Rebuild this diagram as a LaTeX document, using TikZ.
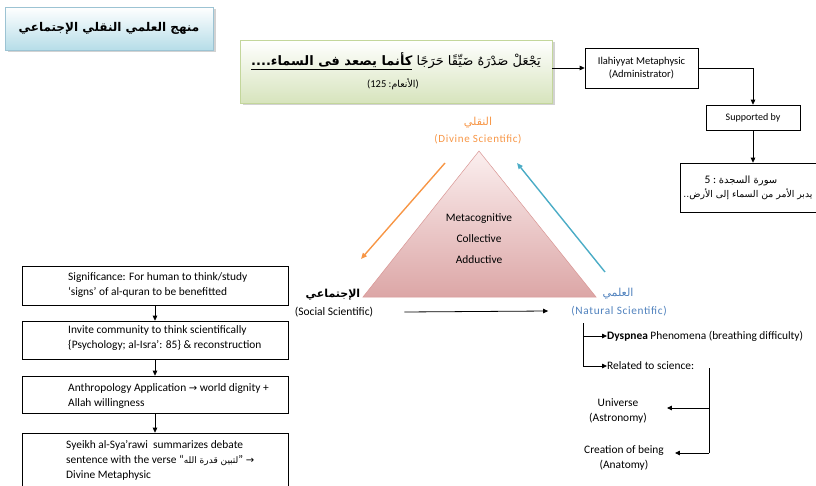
\documentclass[tikz,border=0pt]{standalone}
\usepackage{fontspec}
\setmainfont{Carlito}
\newfontfamily\spaced[LetterSpace=6]{Carlito}
\newfontfamily\arabicfont[Script=Arabic]{DejaVu Sans}
\newfontfamily\symfont{DejaVu Sans}
\TeXXeTstate=1
\usetikzlibrary{arrows.meta,shadows,calc}
\definecolor{titlebot}{HTML}{B6DDE8}
\definecolor{titleline}{HTML}{9CC3D3}
\definecolor{qbot}{HTML}{D7E4BD}
\definecolor{qline}{HTML}{C3D69B}
\definecolor{tritop}{HTML}{FBEFEF}
\definecolor{tribot}{HTML}{DCA6A6}
\definecolor{triline}{HTML}{D99694}
\definecolor{orng}{HTML}{F79646}
\definecolor{arrblue}{HTML}{4BACC6}
\definecolor{lblblue}{HTML}{4F81BD}
\begin{document}
\begin{tikzpicture}[x=1pt,y=-1pt,
  font=\fontsize{11.4}{15}\selectfont,
  arr/.style={-{Triangle[length=5pt,width=4.5pt]}, line width=0.8pt},
  boxed/.style={draw, line width=0.6pt, inner sep=0pt},
  txt/.style={inner sep=0pt, align=left, anchor=west},
  shad/.style={drop shadow={shadow xshift=2.5pt, shadow yshift=-2.5pt, fill=black!35}}]
\useasboundingbox (0,0) rectangle (816,486);

% title
\node[draw=titleline, line width=0.6pt, top color=white, bottom color=titlebot, shad,
      minimum width=208, minimum height=43, inner sep=0pt] (title) at (109,28.5)
  {\arabicfont\bfseries\fontsize{12}{14}\selectfont\beginR منهج العلمي النقلي الإجتماعي\endR};

% quran box
\node[draw=qline, line width=0.6pt, top color=white, bottom color=qbot, shad,
      minimum width=312, minimum height=63, inner sep=0pt, align=center] (quran) at (396,71.5)
  {{\arabicfont\fontsize{13}{16}\selectfont\beginR يَجْعَلْ صَدْرَهُ ضَيِّقًا حَرَجًا \underline{\bfseries\beginR كأنما يصعد فى السماء....\endR}\endR}\\[7pt]
   \hspace*{-6pt}{\fontsize{10.5}{12}\selectfont (125 :{\arabicfont\fontsize{9.5}{12}\selectfont\beginR الأنعام\endR})}};

% top right chain
\node[boxed, minimum width=113, minimum height=40, align=center, font=\fontsize{10.5}{12.5}\selectfont] (ila) at (641.5,68)
  {Ilahiyyat Metaphysic\\(Administrator)};
\node[boxed, minimum width=94, minimum height=25, font=\fontsize{10}{12}\selectfont] (sup) at (753,117.5) {Supported by};
\node[boxed, minimum width=150, minimum height=49, align=center] (saj) at (755,187.5)
  {\hspace*{-28pt}{\fontsize{11.5}{12}\selectfont 5\ :\ }{\arabicfont\fontsize{10}{12}\selectfont\beginR سورة السجدة\endR}\\[-1pt]
   \hspace*{-14pt}{\arabicfont\fontsize{9.3}{12}\selectfont\beginR يدبر الأمر من السماء إلى الأرض..\endR}};

\draw[arr] (quran.east |- ila.west) -- (ila.west);
\draw[arr] (ila.east) -| (sup.north);
\draw[arr] (sup.south) -- (sup.south |- saj.north);

% triangle
\coordinate (apex) at (479,151);
\coordinate (bl) at (363,297);
\coordinate (br) at (596,297);
\path[draw=triline, line width=0.5pt, top color=tritop, bottom color=tribot] (apex) -- (bl) -- (br) -- cycle;
\node[align=center, font=\fontsize{11.4}{21}\selectfont] (tritext) at (479,239) {Metacognitive\\Collective\\Adductive};

\node[text=orng, inner sep=0pt] (naqli) at (478,123) {\arabicfont\fontsize{11}{12}\selectfont\beginR النقلي\endR};
\node[text=orng, inner sep=0pt, font=\spaced\fontsize{11}{12}\selectfont] (divine) at (478,139) {(Divine Scientific)};
\node[inner sep=0pt] (ijt) at (333,295) {\arabicfont\bfseries\fontsize{11}{12}\selectfont\beginR الإجتماعي\endR};
\node[inner sep=0pt, font=\fontsize{11.5}{12}\selectfont] (social) at (334,312) {(Social Scientific)};
\node[text=lblblue, inner sep=0pt] (ilmi) at (618,294) {\arabicfont\fontsize{11}{12}\selectfont\beginR العلمي\endR};
\node[text=lblblue, inner sep=0pt, font=\spaced\fontsize{11.3}{12}\selectfont] (natural) at (619,311) {(Natural Scientific)};

\coordinate (o1) at (445,163);
\coordinate (o2) at (361,259);
\draw[-{Triangle[length=6pt,width=5pt]}, line width=1.4pt, orng] (o1) -- (o2);
\coordinate (c1) at (605,272);
\coordinate (c2) at (517,163);
\draw[-{Triangle[length=6pt,width=5pt]}, line width=1.4pt, arrblue] (c1) -- (c2);
\draw[arr] ([xshift=31pt]social.east) -- ([xshift=-23pt]natural.west);

% left chain
\node[boxed, minimum width=266, minimum height=39] (b1) at (155,285.5) {};
\node[txt] (t1) at (68,285.5) {Significance: For human to think/study\\‘signs’ of al-quran to be benefitted};
\node[boxed, minimum width=266, minimum height=38] (b2) at (155,340) {};
\node[txt] (t2) at (68,338.5) {Invite community to think scientifically\\\{Psychology; al-Isra’: 85\} \& reconstruction};
\node[boxed, minimum width=266, minimum height=37] (b3) at (155,394.5) {};
\node[txt] (t3) at (68,396) {Anthropology Application {\symfont\fontsize{10}{10}\selectfont →} world dignity +\\Allah willingness};
\node[boxed, minimum width=266, minimum height=67] (b4) at (155,466.5) {};
\node[txt] (t4) at (66,460.5) {Syeikh al-Sya’rawi\ \ summarizes debate\\sentence with the verse “{\arabicfont\fontsize{9}{10}\selectfont\beginR لتبين قدرة الله\endR}” {\symfont\fontsize{10}{10}\selectfont →}\\Divine Metaphysic};
\draw[arr] (b1.south) -- (b2.north);
\draw[arr] (b2.south) -- (b3.north);
\draw[arr] (b3.south) -- (b4.north);

% right tree
\node[txt] (dys) at (607,336) {\textbf{Dyspnea} Phenomena (breathing difficulty)};
\node[txt] (rel) at (607,366) {Related to science:};
\coordinate (v1) at (583,323);
\draw[arr] (v1) |- (rel.west);
\draw[arr] (v1 |- dys.west) -- (dys.west);
\node[align=center, inner sep=0pt] (uni) at (618,411) {Universe\\(Astronomy)};
\node[align=center, inner sep=0pt] (cre) at (624,458) {Creation of being\\(Anatomy)};
\coordinate (w1) at (709,368);
\coordinate (w2) at (709,453);
\draw[line width=0.8pt] (w1) -- (w2);
\draw[arr] (w1 |- 0,408) -- ([xshift=20pt,yshift=3pt]uni.east);
\draw[arr] (w2) -- ([xshift=11pt,yshift=5pt]cre.east);
\end{tikzpicture}
\end{document}
